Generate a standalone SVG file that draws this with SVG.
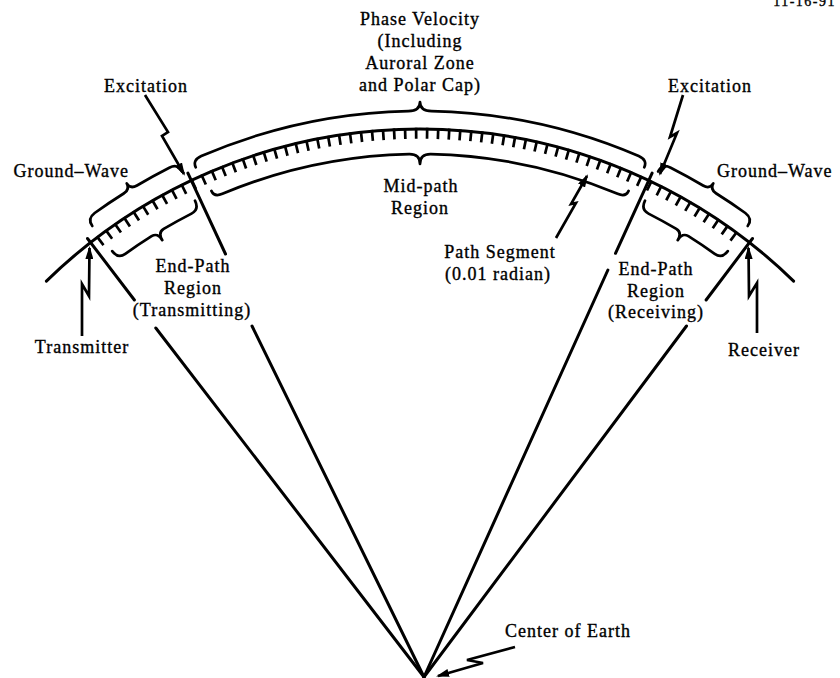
<svg xmlns="http://www.w3.org/2000/svg" width="840" height="678" viewBox="0 0 840 678">
<style>
.t{font-family:"Liberation Serif","Times New Roman",serif;font-size:18px;letter-spacing:1px;fill:#000;stroke:#000;stroke-width:0.35;text-anchor:middle}
.ln{fill:none;stroke:#000;stroke-width:3;stroke-linecap:round;stroke-linejoin:round}
.br{fill:none;stroke:#000;stroke-width:2.7;stroke-linecap:round;stroke-linejoin:round}
.bolt{fill:none;stroke:#000;stroke-width:2.7;stroke-linejoin:miter;marker-end:url(#ah)}
</style>
<defs>
<marker id="ah" markerUnits="userSpaceOnUse" markerWidth="13" markerHeight="8" viewBox="0 0 13 8" refX="11" refY="4" orient="auto">
<path d="M0,0 L13,4 L0,8 z" fill="#000"/>
</marker>
</defs>
<rect width="840" height="678" fill="#fff"/>
<text class="t" x="836" y="6" style="font-size:14px;letter-spacing:1.5px;text-anchor:end">11-16-91</text>

<g id="earth-surface">
<path class="ln" d="M46.4,281.1 A535,535 0 0 1 793.6,281.1"/>
<path id="path-segments" d="M99.1,241.6 A529.5,529.5 0 0 1 740.9,241.6" fill="none" stroke="#000" stroke-width="11" stroke-dasharray="2.7 8.25"/>
</g>

<g id="connectors">
<path class="ln" d="M87.5,238.5 L134.4,300 M155.8,328 L424,677"/>
<path class="ln" d="M187.9,173.1 L225.5,254 M252,326 L424,677"/>
<path class="ln" d="M652.1,173.1 L615.5,253.3 M607.9,270 L424,677"/>
<path class="ln" d="M752.5,238.5 L706.1,300 M686.5,326 L424,677"/>
</g>

<g id="braces">
<path id="brace-phase" class="br" d="M195.7,167.3 Q192.4,160.0 201.3,156.1 A553,553 0 0 1 408.4,111.1 Q420,111 420,102 Q420,111 431.6,111.1 A553,553 0 0 1 638.7,156.1 Q647.6,160.0 644.3,167.3"/>
<path id="brace-midpath" class="br" d="M211.4,190.9 Q214.2,197.3 222.4,193.8 A510,510 0 0 1 409.3,154.1 Q420,154 420,164 Q420,154 430.7,154.1 A510,510 0 0 1 617.6,193.8 Q625.8,197.3 628.6,190.9"/>
<path id="brace-gw-left" class="br" d="M92.3,226.0 Q87.0,218.8 94.7,213.0 A556,556 0 0 1 123.7,193.5 Q130.3,189.4 126.7,183.4 Q130.3,189.4 137.0,185.5 A556,556 0 0 1 169.3,167.7 Q178.0,163.4 181.9,171.5"/>
<path id="brace-gw-right" class="br" d="M658.1,171.5 Q662.0,163.4 670.7,167.7 A556,556 0 0 1 703.0,185.5 Q709.7,189.4 713.3,183.4 Q709.7,189.4 716.3,193.5 A556,556 0 0 1 745.3,213.0 Q753.0,218.8 747.7,226.0"/>
<path id="brace-ep-left" class="br" d="M112.2,251.1 Q118.2,259.1 125.3,253.9 A505,505 0 0 1 151.6,236.2 Q157.7,232.5 162.3,240.2 Q157.7,232.5 163.7,228.9 A505,505 0 0 1 191.5,213.6 Q199.4,209.7 195.0,200.7"/>
<path id="brace-ep-right" class="br" d="M645.0,200.7 Q640.6,209.7 648.5,213.6 A505,505 0 0 1 676.3,228.9 Q682.3,232.5 677.7,240.2 Q682.3,232.5 688.4,236.2 A505,505 0 0 1 714.7,253.9 Q721.8,259.1 727.8,251.1"/>
</g>

<g id="arrows">
<path class="bolt" d="M82,336 L82,284 L89,296 L89.5,248"/>
<path class="bolt" d="M757,333 L757,283 L749,296 L748.5,248"/>
<path class="bolt" d="M145,95 L168,132 L162,136 L184,174"/>
<path class="bolt" d="M683,95 L670,137 L677,133 L660,174"/>
<path class="bolt" d="M556,238 L576,203 L571,204 L587,176"/>
<path class="bolt" d="M515,647 L467,660 L483,663 L438,676"/>
</g>

<g id="label-phase-velocity">
<text class="t" x="420" y="25">Phase Velocity</text>
<text class="t" x="420" y="47">(Including</text>
<text class="t" x="420" y="69">Auroral Zone</text>
<text class="t" x="420" y="91">and Polar Cap)</text>
</g>
<g id="label-excitation-left"><text class="t" x="146" y="92">Excitation</text></g>
<g id="label-excitation-right"><text class="t" x="710" y="92">Excitation</text></g>
<g id="label-groundwave-left"><text class="t" x="129" y="177" style="text-anchor:end">Ground–Wave</text></g>
<g id="label-groundwave-right"><text class="t" x="717" y="177" style="text-anchor:start">Ground–Wave</text></g>
<g id="label-midpath">
<text class="t" x="421" y="192">Mid-path</text>
<text class="t" x="420" y="214">Region</text>
</g>
<g id="label-path-segment">
<text class="t" x="500" y="258">Path Segment</text>
<text class="t" x="498" y="280">(0.01 radian)</text>
</g>
<g id="label-endpath-transmitting">
<text class="t" x="193" y="272">End-Path</text>
<text class="t" x="193" y="294">Region</text>
<text class="t" x="192" y="316">(Transmitting)</text>
</g>
<g id="label-endpath-receiving">
<text class="t" x="656" y="275">End-Path</text>
<text class="t" x="656" y="297">Region</text>
<text class="t" x="656" y="318">(Receiving)</text>
</g>
<g id="label-transmitter"><text class="t" x="82" y="353">Transmitter</text></g>
<g id="label-receiver"><text class="t" x="764" y="356">Receiver</text></g>
<g id="label-center"><text class="t" x="505" y="637" style="text-anchor:start">Center of Earth</text></g>
</svg>
